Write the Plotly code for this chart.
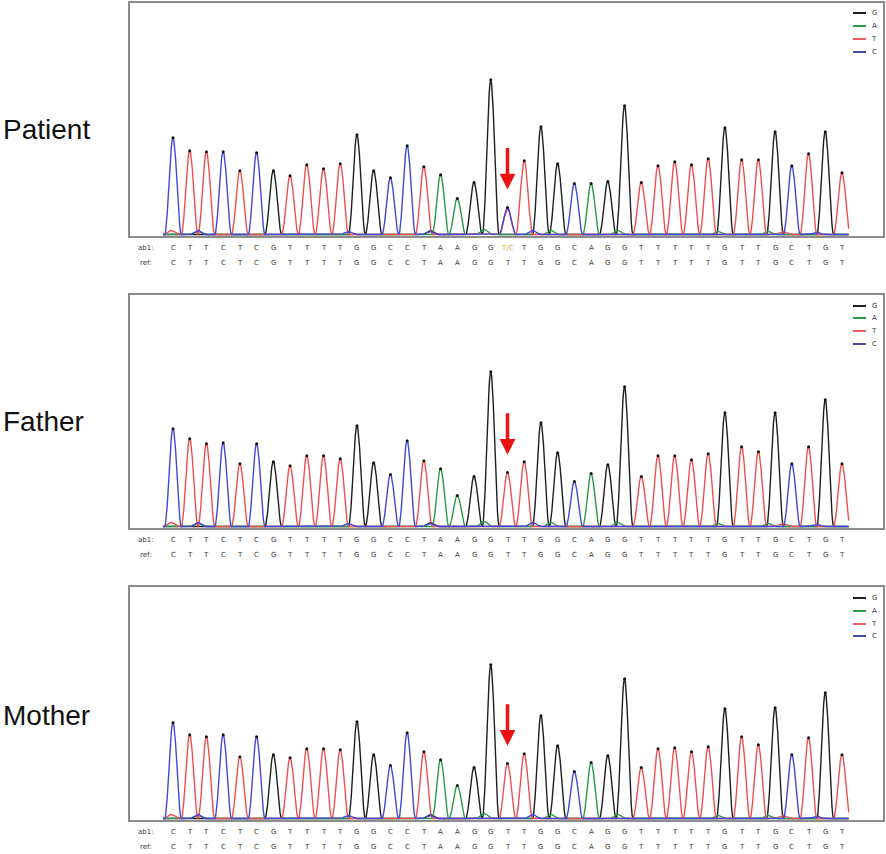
import numpy as np
import plotly.graph_objects as go

W, H = 886, 854

# ---------------------------------------------------------------------------
# Data (peak heights, arbitrary signal units)
# ---------------------------------------------------------------------------
ref_calls = list("CTTCTCGTTTTGGCCTAAGGTTGGCAGGTTTTTGTTGCTGT")
patient_calls = list("CTTCTCGTTTTGGCCTAAGG") + ["T/C"] + list("TGGCAGGTTTTTGTTGCTGT")
father_calls = list("CTTCTCGTTTTGGCCTAAGGTTGGCAGGTTTTTGTTGCTGT")
mother_calls = list("CTTCTCGTTTTGGCCTAAGGTTGGCAGGTTTTTGTTGCTGT")

patient_heights = [97, 84, 83, 83, 64, 82, 64, 59, 70, 66, 71, 100, 64, 57, 89,
                   68, 60, 36, 52, 155, 27, 74, 108, 71, 51, 51, 53, 129, 52,
                   69, 73, 70, 76, 107, 75, 75, 103, 69, 81, 103, 62]
father_heights = [98, 88, 83, 84, 63, 83, 65, 61, 71, 71, 68, 101, 64, 52, 86,
                  66, 58, 31, 50, 155, 54, 65, 104, 74, 45, 53, 62, 140, 50,
                  71, 71, 67, 73, 114, 80, 75, 114, 63, 80, 127, 63]
mother_heights = [96, 84, 82, 84, 62, 82, 64, 61, 70, 70, 69, 97, 64, 53, 86,
                  67, 59, 33, 51, 154, 55, 65, 103, 73, 47, 56, 63, 140, 51,
                  70, 71, 67, 72, 110, 82, 74, 111, 64, 81, 126, 64]

# heterozygous position in the patient: secondary T signal under the C peak
het_pos = 21
patient_het_T = 25

# small background bumps (channel, base position, height)
minor_peaks = [("T", 0.9, 4), ("A", 2.5, 3), ("C", 2.5, 4), ("C", 11.5, 3),
               ("G", 16.4, 4), ("C", 16.4, 3), ("A", 19.6, 5), ("C", 22.5, 4),
               ("A", 23.6, 4), ("A", 27.6, 4), ("A", 33.6, 3), ("A", 36.6, 3),
               ("T", 37.5, 3), ("C", 39.5, 2)]

panels = ["Patient", "Father", "Mother"]
calls_by_panel = [patient_calls, father_calls, mother_calls]
heights = [patient_heights, father_heights, mother_heights]

channels = ["G", "A", "T", "C"]
colors = {"G": "#1e1e1e", "A": "#2a9a48", "T": "#ef4f4f", "C": "#4646d6"}
legend_colors = {"G": "#1e1e1e", "A": "#2a9a48", "T": "#ef5a5a", "C": "#4a4a9a"}

# ---------------------------------------------------------------------------
# Layout geometry (pixels in the 886x854 page)
# ---------------------------------------------------------------------------
frame_x = (130, 883)
frame_y = [(3, 236), (295, 528), (587, 820)]
label_y = [129, 421, 715]
legend_y = [[13, 26, 39, 52], [306, 318, 331, 344], [598, 611, 624, 636]]
arrow_tip = [45, 72, 73]

pos = np.arange(1, len(ref_calls) + 1)
grid = np.round(np.arange(0.4, len(ref_calls) + 0.41, 0.05), 3)
width = 1.0  # base width of one peak, in base positions


def peak(center, h):
    d = grid - center
    return np.where(np.abs(d) < width / 2, h * np.cos(np.pi * d / width) ** 2, 0.0)


def px(v):
    return v / W


def py(v):
    return 1 - v / H


fig = go.Figure()
annotations = []
shapes = []
seq_font = dict(family="DejaVu Sans", size=7, color="#3a3a3a")

for k, name in enumerate(panels):
    ax_id = "" if k == 0 else str(k + 1)
    xa, ya = "x" + ax_id, "y" + ax_id
    hts = heights[k]
    calls = calls_by_panel[k]

    for ch in channels:
        sig = np.zeros_like(grid)
        for i, base in enumerate(calls):
            call = base
            if base == "T/C":
                call = "C"
                if ch == "T":
                    sig += peak(pos[i], patient_het_T)
            if call == ch:
                sig += peak(pos[i], hts[i])
        for c, p, h in minor_peaks:
            if c == ch:
                sig += peak(p, h)
        fig.add_trace(go.Scatter(
            x=grid, y=sig, mode="lines", xaxis=xa, yaxis=ya,
            line=dict(color=colors[ch], width=1.4),
            name=ch, showlegend=False, hoverinfo="skip",
        ))

    # peak-call dots
    fig.add_trace(go.Scatter(
        x=pos, y=hts, mode="markers", xaxis=xa, yaxis=ya,
        marker=dict(size=3, color="#111"), showlegend=False, hoverinfo="skip",
    ))

    y0, y1 = frame_y[k]
    fig.update_layout({
        ("xaxis" + ax_id): dict(
            domain=[px(frame_x[0]), px(frame_x[1])],
            range=[1 - (173 - frame_x[0]) / 16.725,
                   41 + (frame_x[1] - 842) / 16.725],
            showgrid=False, zeroline=False, showticklabels=False, ticks="",
            showline=True, mirror=True, linecolor="#8c8c8c", linewidth=1.5,
            anchor=ya,
        ),
        ("yaxis" + ax_id): dict(
            domain=[py(y1), py(y0)], range=[-1.5, 232],
            showgrid=False, zeroline=False, showticklabels=False, ticks="",
            showline=True, mirror=True, linecolor="#8c8c8c", linewidth=1.5,
            anchor=xa,
        ),
    })

    # sample label on the left
    annotations.append(dict(
        x=px(1), y=py(label_y[k]), xref="paper", yref="paper",
        xanchor="left", yanchor="middle", showarrow=False, text=name,
        font=dict(family="Liberation Sans, Arial", size=28, color="#111"),
    ))

    # sequence rows
    for tag, row_calls, off in [("ab1:", calls, 12), ("ref:", ref_calls, 27)]:
        yy = py(y1 + off)
        annotations.append(dict(
            x=px(146), y=yy, xref="paper", yref="paper", showarrow=False,
            xanchor="center", yanchor="middle", text=tag, font=seq_font,
        ))
        for i, b in enumerate(row_calls):
            font = dict(seq_font, color="#e0a93c") if b == "T/C" else seq_font
            annotations.append(dict(
                x=pos[i], y=yy, xref=xa, yref="paper", showarrow=False,
                xanchor="center", yanchor="middle", text=b, font=font,
            ))

    # red arrow at the variant position
    annotations.append(dict(
        x=het_pos, y=arrow_tip[k], xref=xa, yref=ya, ax=0, ay=-43,
        showarrow=True, arrowhead=2, arrowsize=0.9, arrowwidth=3.5,
        arrowcolor="#ee1111", standoff=0, text="",
    ))

    # small legend in the upper-right corner
    for j, ch in enumerate(channels):
        ly = py(legend_y[k][j])
        shapes.append(dict(type="line", xref="paper", yref="paper",
                           x0=px(853), x1=px(866), y0=ly, y1=ly,
                           line=dict(color=legend_colors[ch], width=2)))
        annotations.append(dict(
            x=px(874), y=ly, xref="paper", yref="paper", showarrow=False,
            xanchor="center", yanchor="middle", text=ch, font=seq_font,
        ))

fig.update_layout(
    width=W, height=H, margin=dict(l=0, r=0, t=0, b=0),
    paper_bgcolor="white", plot_bgcolor="white",
    annotations=annotations, shapes=shapes, showlegend=False,
)

fig.write_html("out.html", config={"displayModeBar": False},
               post_script="document.body.style.margin='0px';")
